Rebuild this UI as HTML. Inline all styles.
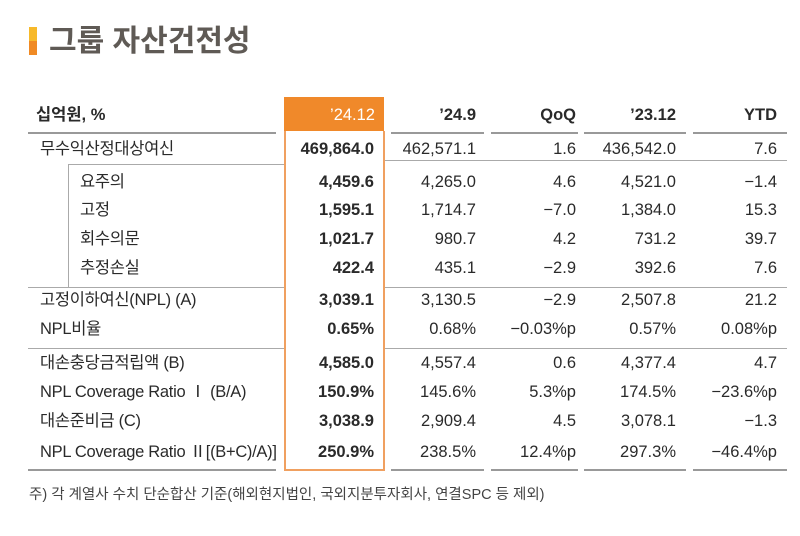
<!DOCTYPE html>
<html><head><meta charset="utf-8"><style>
body{margin:0;width:800px;height:536px;background:#fff;position:relative;overflow:hidden;font-family:"Liberation Sans","Noto Sans CJK KR",sans-serif;color:#2a2a2a}
.a{position:absolute;white-space:nowrap}
.t{font-size:16.5px;line-height:20px}
.r{text-align:right}
.b{font-weight:bold}
.h{position:absolute;height:1px;background:#aaa}
</style></head><body>
<div class="a" style="left:29px;top:27px;width:8px;height:14px;background:#f7b92a"></div>
<div class="a" style="left:29px;top:41px;width:8px;height:14px;background:#f08a24"></div>
<div class="a b" style="left:49px;top:24px;font-size:30px;line-height:36px;color:#5f5a55">그룹 자산건전성</div>

<div class="a" style="left:284px;top:97px;width:100px;height:34px;background:#f0892a"></div>
<div class="a" style="left:284px;top:131px;width:2px;height:340px;background:#f0a060"></div>
<div class="a" style="left:383px;top:131px;width:2px;height:340px;background:#f0a060"></div>
<div class="a" style="left:284px;top:469px;width:101px;height:2px;background:#f0a060"></div>

<div class="a t b" style="left:36px;top:105px">십억원, %</div>
<div class="a t r" style="left:284px;width:91px;top:105px;color:#fff">’24.12</div>
<div class="a t b r" style="left:380px;width:96px;top:105px">’24.9</div>
<div class="a t b r" style="left:480px;width:96px;top:105px">QoQ</div>
<div class="a t b r" style="left:580px;width:96px;top:105px">’23.12</div>
<div class="a t b r" style="left:680px;width:97px;top:105px">YTD</div>

<div class="h" style="left:28px;width:248px;top:132px;height:2px;background:#999"></div>
<div class="h" style="left:391px;width:93px;top:132px;height:2px;background:#999"></div>
<div class="h" style="left:491px;width:87px;top:132px;height:2px;background:#999"></div>
<div class="h" style="left:584px;width:102px;top:132px;height:2px;background:#999"></div>
<div class="h" style="left:693px;width:94px;top:132px;height:2px;background:#999"></div>

<div class="h" style="left:68px;width:216px;top:164px"></div>
<div class="h" style="left:385px;width:402px;top:160px"></div>
<div class="a" style="left:68px;top:164px;width:1px;height:123px;background:#aaa"></div>
<div class="h" style="left:28px;width:256px;top:287px"></div>
<div class="h" style="left:385px;width:402px;top:287px"></div>
<div class="h" style="left:28px;width:256px;top:348px"></div>
<div class="h" style="left:385px;width:402px;top:348px"></div>

<div class="h" style="left:28px;width:248px;top:469px;height:2px;background:#999"></div>
<div class="h" style="left:391px;width:93px;top:469px;height:2px;background:#999"></div>
<div class="h" style="left:491px;width:87px;top:469px;height:2px;background:#999"></div>
<div class="h" style="left:584px;width:102px;top:469px;height:2px;background:#999"></div>
<div class="h" style="left:693px;width:94px;top:469px;height:2px;background:#999"></div>

<div id="rows"></div>
<script>
var R=[
[139,40,"무수익산정대상여신","469,864.0","462,571.1","1.6","436,542.0","7.6"],
[172,80,"요주의","4,459.6","4,265.0","4.6","4,521.0","−1.4"],
[200,80,"고정","1,595.1","1,714.7","−7.0","1,384.0","15.3"],
[229,80,"회수의문","1,021.7","980.7","4.2","731.2","39.7"],
[258,80,"추정손실","422.4","435.1","−2.9","392.6","7.6"],
[290,40,"고정이하여신(NPL) (A)","3,039.1","3,130.5","−2.9","2,507.8","21.2"],
[319,40,"NPL비율","0.65%","0.68%","−0.03%p","0.57%","0.08%p"],
[353,40,"대손충당금적립액 (B)","4,585.0","4,557.4","0.6","4,377.4","4.7"],
[382,40,"NPL Coverage Ratio Ⅰ (B/A)","150.9%","145.6%","5.3%p","174.5%","−23.6%p"],
[411,40,"대손준비금 (C)","3,038.9","2,909.4","4.5","3,078.1","−1.3"],
[442,40,"NPL Coverage Ratio Ⅱ[(B+C)/A)]","250.9%","238.5%","12.4%p","297.3%","−46.4%p"]];
var rr=[374,476,576,676,777],h="";
R.forEach(function(r){
h+='<div class="a t" style="left:'+r[1]+'px;top:'+r[0]+'px;letter-spacing:-0.3px">'+r[2]+'</div>';
for(var i=0;i<5;i++)h+='<div class="a t r'+(i==0?' b':'')+'" style="left:'+(rr[i]-110)+'px;width:110px;top:'+r[0]+'px">'+r[3+i]+'</div>';
});
document.getElementById('rows').innerHTML=h;
</script>
<div class="a" style="left:29px;top:486px;font-size:14.5px;line-height:18px;color:#444">주) 각 계열사 수치 단순합산 기준(해외현지법인, 국외지분투자회사, 연결SPC 등 제외)</div>
</body></html>
